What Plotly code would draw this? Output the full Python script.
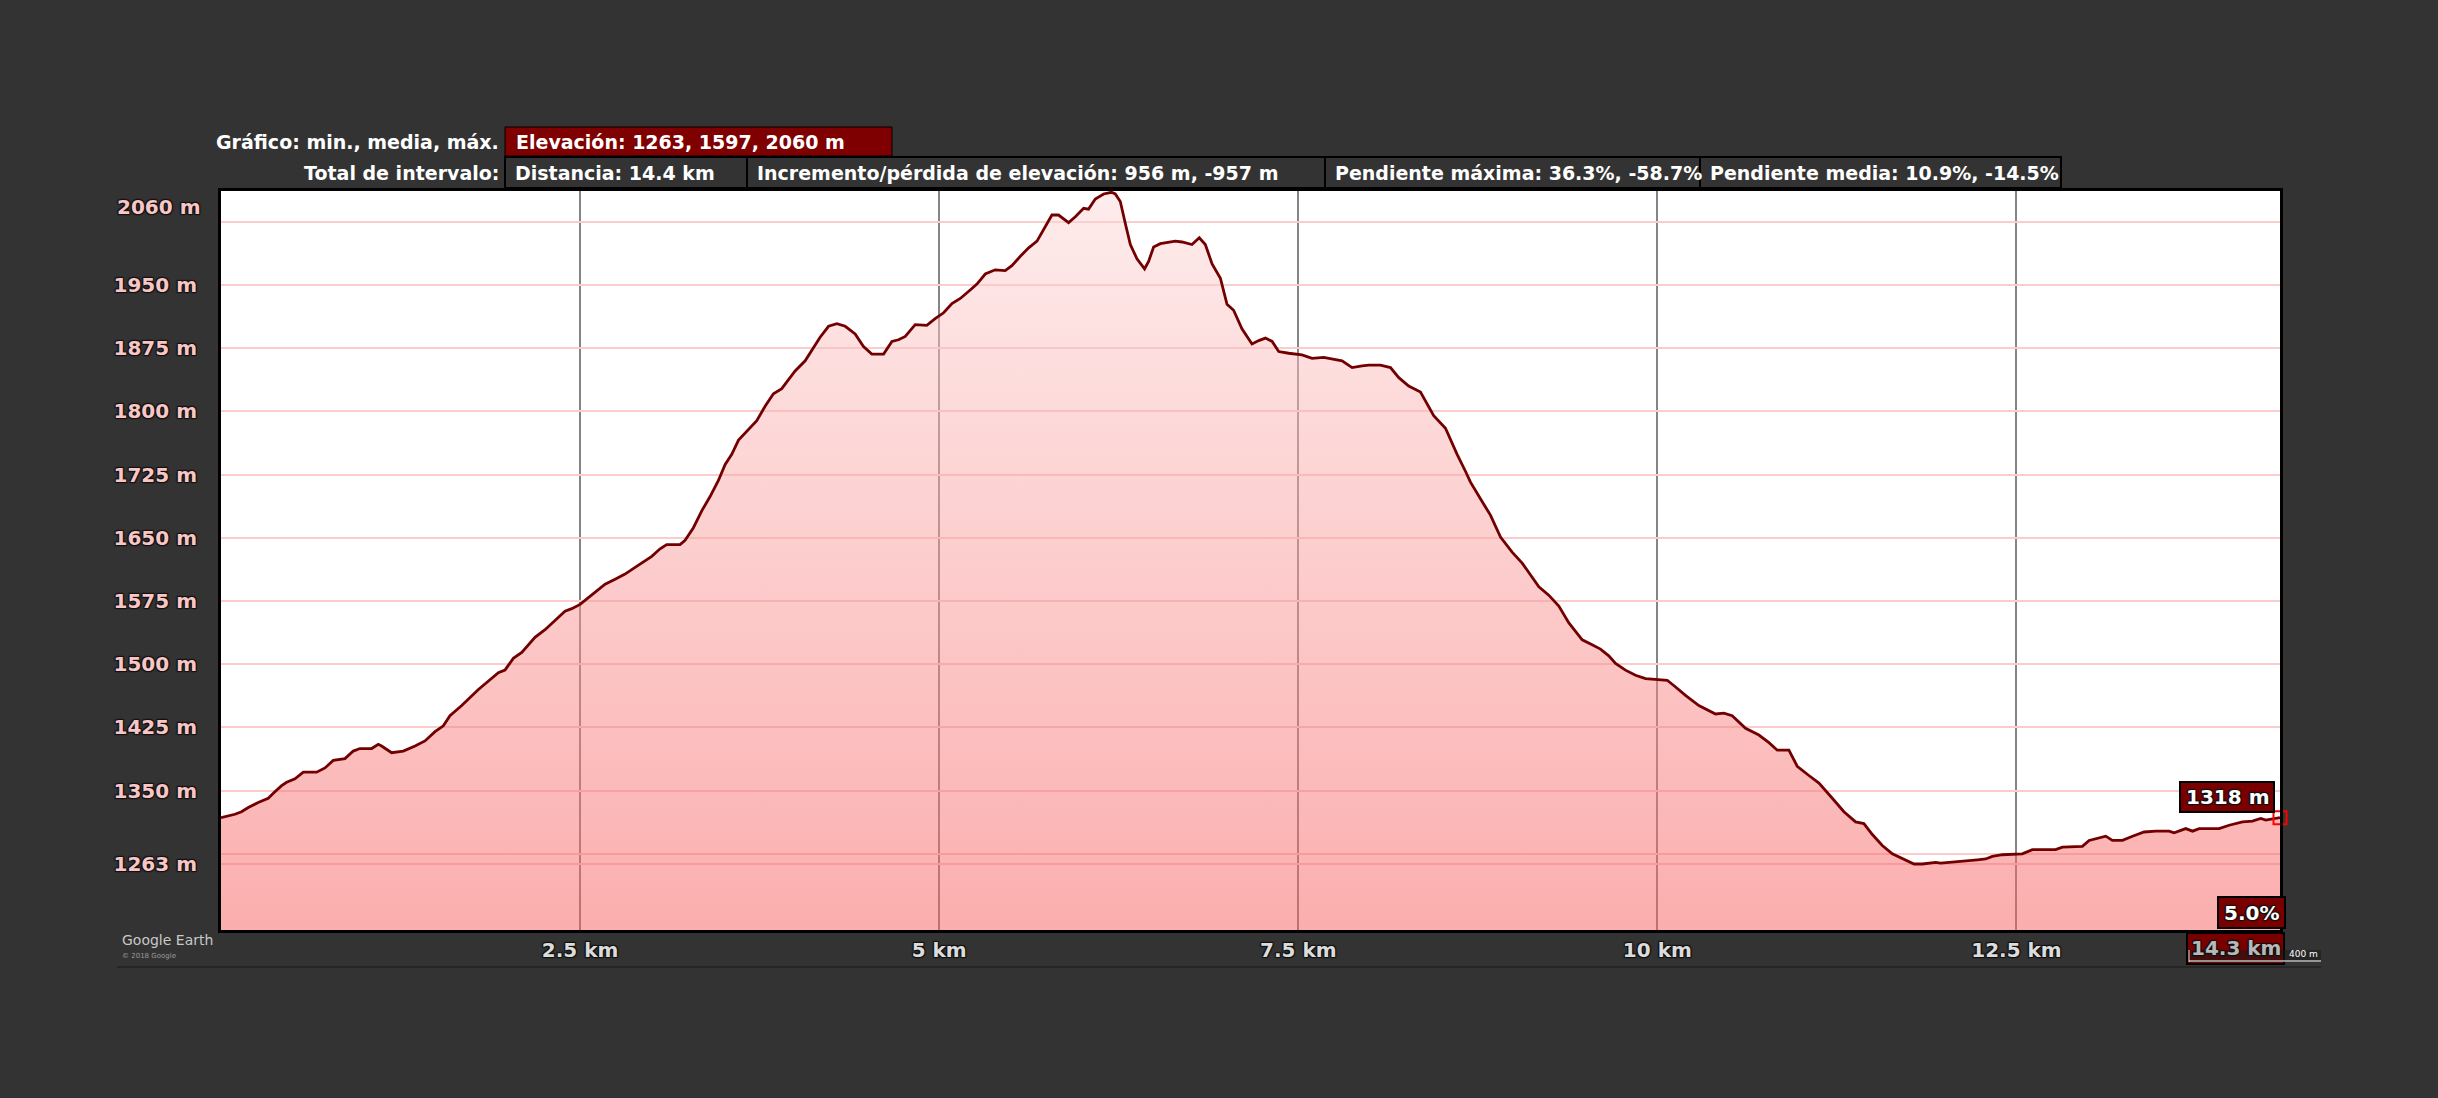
import plotly.graph_objects as go

# ---------------- data ----------------
km = [0.000, 0.097, 0.143, 0.190, 0.259, 0.329, 0.364, 0.422, 0.457, 0.515, 0.573, 0.666, 0.724, 0.782,
      0.863, 0.921, 0.967, 1.049, 1.095, 1.118, 1.188, 1.269, 1.351, 1.420, 1.490, 1.548, 1.594, 1.676,
      1.792, 1.850, 1.931, 1.977, 2.035, 2.094, 2.186, 2.256, 2.326, 2.395, 2.442, 2.500, 2.558, 2.616,
      2.674, 2.744, 2.813, 2.883, 2.953, 2.999, 3.057, 3.103, 3.196, 3.231, 3.289, 3.347, 3.405, 3.463,
      3.510, 3.556, 3.603, 3.661, 3.730, 3.788, 3.846, 3.904, 3.951, 3.997, 4.067, 4.125, 4.171, 4.230,
      4.288, 4.346, 4.415, 4.473, 4.531, 4.613, 4.671, 4.717, 4.764, 4.833, 4.914, 4.972, 5.031, 5.089,
      5.147, 5.216, 5.263, 5.321, 5.390, 5.460, 5.506, 5.565, 5.623, 5.681, 5.739, 5.785, 5.831, 5.901,
      5.948, 6.006, 6.040, 6.087, 6.145, 6.200, 6.226, 6.261, 6.296, 6.331, 6.377, 6.430, 6.458, 6.493,
      6.540, 6.644, 6.691, 6.760, 6.811, 6.853, 6.900, 6.958, 7.004, 7.050, 7.108, 7.178, 7.225, 7.271,
      7.318, 7.364, 7.434, 7.526, 7.596, 7.677, 7.805, 7.875, 7.944, 7.991, 8.072, 8.142, 8.200, 8.269,
      8.351, 8.385, 8.443, 8.525, 8.606, 8.664, 8.699, 8.780, 8.838, 8.908, 8.989, 9.059, 9.105, 9.175,
      9.244, 9.314, 9.384, 9.477, 9.546, 9.604, 9.662, 9.709, 9.778, 9.848, 9.918, 10.069, 10.127,
      10.196, 10.289, 10.405, 10.463, 10.521, 10.614, 10.707, 10.777, 10.835, 10.916, 10.974, 11.055,
      11.125, 11.218, 11.299, 11.380, 11.438, 11.497, 11.566, 11.636, 11.729, 11.787, 11.845, 11.938,
      11.973, 12.054, 12.147, 12.228, 12.286, 12.332, 12.402, 12.541, 12.611, 12.773, 12.820, 12.959,
      13.006, 13.122, 13.168, 13.238, 13.308, 13.389, 13.470, 13.563, 13.598, 13.679, 13.726, 13.772,
      13.911, 13.981, 14.074, 14.143, 14.201, 14.236, 14.335]

elev = [1318, 1322, 1325, 1330, 1336, 1341, 1347, 1356, 1360, 1364, 1372, 1372, 1377, 1386,
        1388, 1397, 1400, 1400, 1405, 1403, 1395, 1397, 1403, 1409, 1420, 1427, 1439, 1451,
        1470, 1478, 1490, 1493, 1507, 1514, 1532, 1541, 1552, 1563, 1566, 1571, 1579, 1587,
        1595, 1601, 1607, 1615, 1623, 1628, 1637, 1642, 1642, 1647, 1662, 1682, 1699, 1718,
        1737, 1749, 1766, 1777, 1789, 1806, 1821, 1827, 1837, 1848, 1860, 1876, 1888, 1901,
        1904, 1901, 1892, 1877, 1868, 1868, 1883, 1885, 1889, 1903, 1902, 1910, 1917, 1928,
        1934, 1944, 1951, 1963, 1968, 1967, 1973, 1984, 1994, 2002, 2019, 2033, 2033, 2024,
        2031, 2041, 2040, 2052, 2058, 2060, 2058, 2049, 2023, 1998, 1981, 1969, 1978, 1995,
        1999, 2002, 2001, 1998, 2006, 1998, 1975, 1958, 1927, 1920, 1898, 1880, 1884, 1887,
        1883, 1871, 1869, 1867, 1863, 1864, 1860, 1852, 1854, 1855, 1855, 1852, 1840, 1830,
        1823, 1813, 1795, 1780, 1749, 1729, 1716, 1693, 1677, 1651, 1633, 1620, 1609, 1592,
        1582, 1569, 1549, 1529, 1523, 1518, 1510, 1501, 1493, 1487, 1483, 1481, 1473,
        1463, 1451, 1441, 1442, 1439, 1424, 1416, 1407, 1398, 1398, 1379, 1368,
        1359, 1341, 1325, 1313, 1311, 1298, 1285, 1275, 1268, 1263, 1263, 1265,
        1264, 1265, 1267, 1268, 1269, 1272, 1274, 1275, 1280, 1280, 1283, 1284,
        1291, 1296, 1291, 1291, 1296, 1301, 1302, 1302, 1300, 1305, 1302, 1305,
        1305, 1309, 1313, 1314, 1317, 1315, 1318]

x_tick_vals = [2.5, 5, 7.5, 10, 12.5]
x_tick_text = ["2.5 km", "5 km", "7.5 km", "10 km", "12.5 km"]
y_tick_vals = [1263, 1275, 1350, 1425, 1500, 1575, 1650, 1725, 1800, 1875, 1950, 2025]
y_tick_text = ["1263 m", "", "1350 m", "1425 m", "1500 m", "1575 m", "1650 m", "1725 m",
               "1800 m", "1875 m", "1950 m", ""]
X_MAX = 14.335
Y_RANGE = [1184.7, 2061.5]

stats_label = "Gráfico: min., media, máx."
stats_value = "Elevación: 1263, 1597, 2060 m"
totals_label = "Total de intervalo:"
totals_values = ["Distancia: 14.4 km",
                 "Incremento/pérdida de elevación: 956 m, -957 m",
                 "Pendiente máxima: 36.3%, -58.7%",
                 "Pendiente media: 10.9%, -14.5%"]
top_label = "2060 m"
cursor_grade = "5.0%"
cursor_dist = "14.3 km"

# ---------------- geometry helpers (pixels -> paper) ----------------
PL, PR, PT, PB = 221, 2280, 191, 930


def px(x):
    return (x - PL) / (PR - PL)


def py(y):
    return (PB - y) / (PB - PT)


SHADOW = "-1px -1px 1px #111, 1px -1px 1px #111, -1px 1px 1px #111, 1px 1px 1px #111"
FONT = "DejaVu Sans"

fig = go.Figure()
fig.add_trace(go.Scatter(
    x=km, y=elev, mode="lines",
    line=dict(color="#730000", width=2.8),
    fill="tozeroy",
    fillgradient=dict(type="vertical",
                      colorscale=[[0, "rgba(247,93,93,0.5)"], [1, "rgba(253,217,217,0.5)"]],
                      start=Y_RANGE[0], stop=Y_RANGE[1]),
    hoverinfo="skip",
))
fig.add_trace(go.Scatter(
    x=[km[-1]], y=[elev[-1]], mode="markers", cliponaxis=False,
    marker=dict(symbol="square-open", size=13, color="#ff0000", line=dict(width=2, color="#ff0000")),
    hoverinfo="skip",
))

shapes = []
annotations = []


def box(x0, x1, y0, y1, fill, lw=2, lc="black"):
    shapes.append(dict(type="rect", xref="paper", yref="paper",
                       x0=px(x0), x1=px(x1), y0=py(y1), y1=py(y0),
                       fillcolor=fill, line=dict(color=lc, width=lw), layer="above"))


def text(x, y, s, anchor="left", size=19, color="white", weight="bold", shadow="none", family=FONT):
    annotations.append(dict(xref="paper", yref="paper", x=px(x), y=py(y), text=s,
                            xanchor=anchor, yanchor="middle", showarrow=False,
                            font=dict(family=family, size=size, color=color, weight=weight,
                                      shadow=shadow)))


# header row 1
text(501, 142, stats_label, anchor="right")
box(505, 892, 127, 156, "#7f0000", lw=1)
text(514, 142, stats_value)

# header row 2
text(501, 173, totals_label, anchor="right")
edges = [505, 747, 1325, 1700, 2061]
for i, s in enumerate(totals_values):
    box(edges[i], edges[i + 1], 157, 188, "#333333", lw=2)
for i, s in enumerate(totals_values):
    text(edges[i] + 8, 173, s)

# top elevation label
text(202, 207, top_label, anchor="right", size=20, color="#f9c6c6", shadow=SHADOW)

# cursor labels
box(2180, 2274, 782, 812, "#7a0000")
text(2227, 797, f"{elev[-1]} m", anchor="center", size=20, shadow=SHADOW)
box(2218, 2285, 897, 928, "#7a0000")
text(2251.5, 912.5, cursor_grade, anchor="center", size=20, shadow=SHADOW)
box(2187, 2284, 933, 964, "#7a0000")
text(2235.5, 948.5, cursor_dist, anchor="center", size=20, color="#b8b8b8", shadow=SHADOW)

# scale bar
shapes.append(dict(type="rect", xref="paper", yref="paper", x0=px(2189), x1=px(2321),
                   y0=py(962), y1=py(950), fillcolor="rgba(25,25,25,0.55)", line=dict(width=0),
                   layer="above"))
shapes.append(dict(type="line", xref="paper", yref="paper", x0=px(2189), x1=px(2321),
                   y0=py(961), y1=py(961), line=dict(color="#bdbdbd", width=1.5), layer="above"))
shapes.append(dict(type="line", xref="paper", yref="paper", x0=px(2189), x1=px(2189),
                   y0=py(962), y1=py(950), line=dict(color="#dddddd", width=1), layer="above"))
text(2287, 954, "400 m", anchor="left", size=9, color="white", weight="normal")

# separator line at bottom
shapes.append(dict(type="line", xref="paper", yref="paper", x0=px(117), x1=px(2321),
                   y0=py(967), y1=py(967), line=dict(color="#262626", width=2), layer="above"))

# Google Earth logo
text(120, 940, "Google Earth", size=14, color="#c8c8c8", weight="normal")
text(120, 956, "© 2018 Google", size=7, color="#9a9a9a", weight="normal")

fig.update_layout(
    width=2438, height=1098,
    paper_bgcolor="#333333", plot_bgcolor="white",
    margin=dict(l=PL, r=2438 - PR, t=PT, b=1098 - PB, pad=0),
    showlegend=False,
    shapes=shapes, annotations=annotations,
    xaxis=dict(range=[0, X_MAX], tickvals=x_tick_vals, ticktext=x_tick_text,
               showgrid=True, gridcolor="#858585", gridwidth=2, zeroline=False,
               showline=True, linecolor="black", linewidth=3, mirror=True,
               ticks="", ticklen=0, ticklabelstandoff=0,
               tickfont=dict(family=FONT, size=20, color="#dcdcdc", weight="bold", shadow=SHADOW)),
    yaxis=dict(range=Y_RANGE, tickvals=y_tick_vals, ticktext=y_tick_text,
               showgrid=True, gridcolor="#fbcccc", gridwidth=1.5, zeroline=False,
               showline=True, linecolor="black", linewidth=3, mirror=True,
               ticks="", ticklen=0, ticklabelstandoff=17,
               tickfont=dict(family=FONT, size=20, color="#f9c6c6", weight="bold", shadow=SHADOW)),
)

fig.write_html("out.html", config={"displayModeBar": False},
               post_script="document.body.style.margin='0';document.body.style.overflow='hidden';")
